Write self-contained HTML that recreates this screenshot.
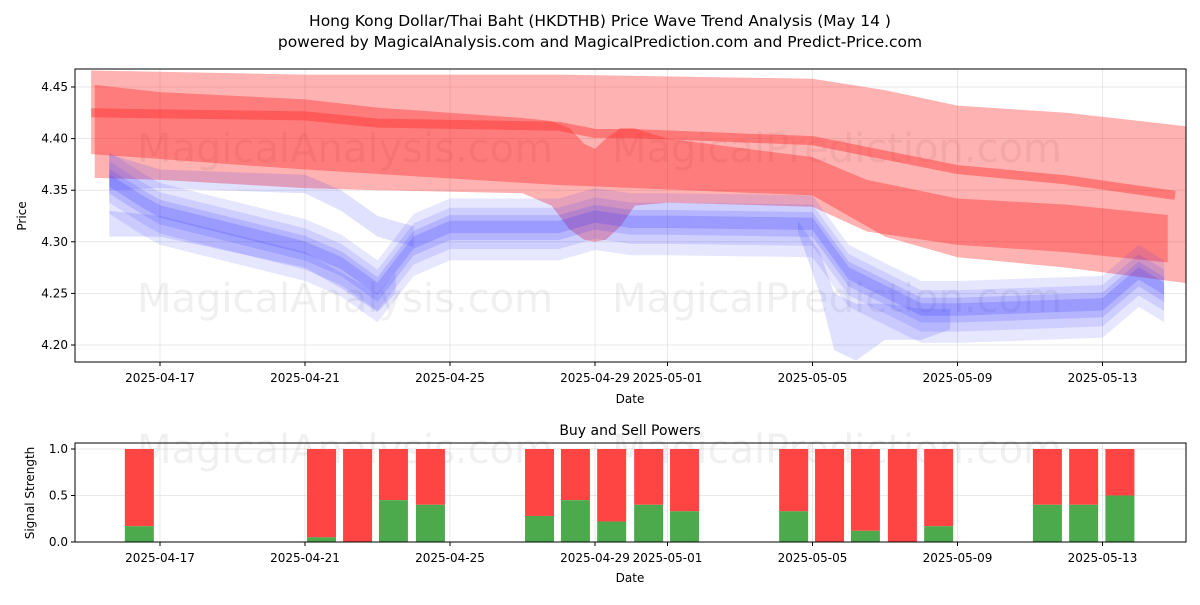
<!DOCTYPE html>
<html><head><meta charset="utf-8">
<style>
body{margin:0;background:#fff;font-family:"Liberation Sans","DejaVu Sans",sans-serif;}
svg text{font-family:"DejaVu Sans","Liberation Sans",sans-serif;}
</style></head>
<body>
<svg id="c" width="1200" height="600" viewBox="0 0 1200 600" xmlns="http://www.w3.org/2000/svg">
<rect width="1200" height="600" fill="#fff"/>
<text x="600" y="26" text-anchor="middle" font-size="15.5">Hong Kong Dollar/Thai Baht (HKDTHB) Price Wave Trend Analysis (May 14 )</text>
<text x="600" y="47" text-anchor="middle" font-size="15.5">powered by MagicalAnalysis.com and MagicalPrediction.com and Predict-Price.com</text>
<g id="topg"></g>
<g id="botg"></g>
</svg>
<script>
// ---- data ----
const xTickLabels = ["2025-04-17","2025-04-21","2025-04-25","2025-04-29","2025-05-01","2025-05-05","2025-05-09","2025-05-13"];
const xTickDays = [0,4,8,12,14,18,22,26];
const yTicks = [4.20,4.25,4.30,4.35,4.40,4.45];
const sigTicks = [0.0,0.5,1.0];

const lightDays = [-1.9,4,11,18,20,22,25,28.3];
const lightHi = [4.466,4.462,4.462,4.458,4.447,4.432,4.425,4.412];
const lightLo = [4.385,4.37,4.355,4.345,4.305,4.285,4.275,4.26];

const midDays = [-1.8,0,4,6,10,10.8,11.3,11.7,12,12.3,12.7,13.1,14,18,19.5,22,25,27.8];
const midHi = [4.452,4.445,4.438,4.43,4.42,4.417,4.41,4.395,4.39,4.40,4.41,4.41,4.40,4.382,4.36,4.342,4.336,4.326];
const midLo = [4.362,4.36,4.352,4.35,4.347,4.335,4.312,4.302,4.30,4.302,4.315,4.335,4.338,4.334,4.31,4.297,4.29,4.28];

const redLineDays = [-1.9,4,6,11,12,13,18,22,25,28];
const redLine = [4.425,4.422,4.415,4.412,4.405,4.405,4.398,4.37,4.36,4.345];

const blueDays = [-1.4,-0.5,0,4,5,6,7,8,11,12,13,14,18,19,21,22,26,27,27.7];
const blueMid = [4.36,4.34,4.33,4.295,4.28,4.255,4.30,4.315,4.315,4.325,4.32,4.32,4.318,4.27,4.235,4.235,4.24,4.27,4.255];

const blueUpDays = [-1.4,0,4,5,6,7];
const blueUpHi = [4.385,4.37,4.365,4.35,4.325,4.315];
const blueUpLo = [4.35,4.352,4.347,4.33,4.305,4.295];

const blueLowDays = [-1.4,0,4,5,6,6.5];
const blueLowHi = [4.33,4.325,4.29,4.27,4.25,4.27];
const blueLowLo = [4.305,4.305,4.275,4.255,4.232,4.25];

const blueDipDays = [17.6,18.2,18.6,19.2,20,21,21.8];
const blueDipHi = [4.32,4.29,4.25,4.24,4.24,4.235,4.235];
const blueDipLo = [4.31,4.25,4.195,4.185,4.205,4.205,4.215];

const barDays = [-0.57,4.455,5.45,6.44,7.46,10.47,11.46,12.46,13.48,14.47,17.48,18.47,19.46,20.48,21.48,24.48,25.48,26.48];
const buyVals = [0.17,0.05,0,0.45,0.40,0.28,0.45,0.22,0.40,0.33,0.33,0,0.12,0,0.17,0.40,0.40,0.50];

// ---- scales ----
const L=75,R=1186,T=69,B=362;
const dx=d=>160+d*36.25;
const py=v=>345-(v-4.20)*1032;
const BT=443,BB=542;
const sy=v=>542-v*93;
const NS="http://www.w3.org/2000/svg";
function mk(p,tag,a){const e=document.createElementNS(NS,tag);for(const k in a)e.setAttribute(k,a[k]);p.appendChild(e);return e;}
const gTop=document.getElementById('topg'), gBot=document.getElementById('botg');

xTickDays.forEach((d,i)=>{const g=mk(gTop,'line',{x1:dx(d),x2:dx(d),y1:T,y2:B,stroke:'#b0b0b0','stroke-width':0.8,'stroke-opacity':0.35});
});
yTicks.forEach(v=>{const g=mk(gTop,'line',{x1:L,x2:R,y1:py(v),y2:py(v),stroke:'#b0b0b0','stroke-width':0.8,'stroke-opacity':0.35});
});

[[345,148],[837,148],[345,298],[837,298],[345,449],[837,449]].forEach((p,i)=>{
 const t=mk(gTop,'text',{x:p[0],y:p[1]+14,'text-anchor':'middle','font-size':40,fill:'#000','fill-opacity':0.06});
 t.textContent=(i%2==0)?'MagicalAnalysis.com':'MagicalPrediction.com';
 });

function band(p,days,hi,lo,fill,op){
 let s='M'+days.map((d,i)=>dx(d)+','+py(hi[i])).join('L');
 s+='L'+days.map((d,i)=>dx(d)+','+py(lo[i])).reverse().join('L')+'Z';
 return mk(p,'path',{d:s,fill:fill,'fill-opacity':op,'stroke-linejoin':'round'});
}
const b1=band(gTop,lightDays,lightHi,lightLo,'#ff0000',0.3);

const b2=band(gTop,midDays,midHi,midLo,'#ff0000',0.3);

const rl=mk(gTop,'path',{d:'M'+redLineDays.map((d,i)=>dx(d)+','+py(redLine[i])).join('L'),fill:'none',stroke:'#ff3030','stroke-opacity':0.45,'stroke-width':9});


// blue bands
[[0.03,0.12],[0.02,0.13],[0.012,0.16],[0.006,0.2]].forEach(w=>{
 const hi=blueMid.map(v=>v+w[0]*0.9), lo=blueMid.map(v=>v-w[0]*1.1);
 const b=band(gTop,blueDays,hi,lo,'#3030ff',w[1]);
 });
let bb=band(gTop,blueUpDays,blueUpHi,blueUpLo,'#3030ff',0.15);

bb=band(gTop,blueLowDays,blueLowHi,blueLowLo,'#3030ff',0.15);

bb=band(gTop,blueDipDays,blueDipHi,blueDipLo,'#3030ff',0.15);


const f1=mk(gTop,'rect',{x:L,y:T,width:R-L,height:B-T,fill:'none',stroke:'#000','stroke-width':1});

xTickDays.forEach((d,i)=>{mk(gTop,'line',{x1:dx(d),x2:dx(d),y1:B,y2:B+4,stroke:'#000'});
 const t=mk(gTop,'text',{x:dx(d),y:B+20,'text-anchor':'middle','font-size':12});t.textContent=xTickLabels[i];
 });
yTicks.forEach(v=>{mk(gTop,'line',{x1:L-4,x2:L,y1:py(v),y2:py(v),stroke:'#000'});
 const t=mk(gTop,'text',{x:L-7,y:py(v)+4,'text-anchor':'end','font-size':12});t.textContent=v.toFixed(2);
 });
let t=mk(gTop,'text',{x:630,y:403,'text-anchor':'middle','font-size':12});t.textContent='Date';

t=mk(gTop,'text',{x:26,y:216,'text-anchor':'middle','font-size':12,transform:'rotate(-90 26 216)'});t.textContent='Price';


t=mk(gBot,'text',{x:630,y:435,'text-anchor':'middle','font-size':14});t.textContent='Buy and Sell Powers';

xTickDays.forEach(d=>{const g=mk(gBot,'line',{x1:dx(d),x2:dx(d),y1:BT,y2:BB,stroke:'#b0b0b0','stroke-width':0.8,'stroke-opacity':0.35});
 });
sigTicks.forEach(v=>{const g=mk(gBot,'line',{x1:L,x2:R,y1:sy(v),y2:sy(v),stroke:'#b0b0b0','stroke-width':0.8,'stroke-opacity':0.35});
 });
const bw=0.8*36.25;
barDays.forEach((d,i)=>{
 const x=dx(d)-bw/2;
 const s=mk(gBot,'rect',{x:x,y:sy(1),width:bw,height:sy(buyVals[i])-sy(1),fill:'#ff4444'});
 
 const g=mk(gBot,'rect',{x:x,y:sy(buyVals[i]),width:bw,height:sy(0)-sy(buyVals[i]),fill:'#4caa4c'});
 });
const f2=mk(gBot,'rect',{x:L,y:BT,width:R-L,height:BB-BT,fill:'none',stroke:'#000','stroke-width':1});

xTickDays.forEach((d,i)=>{mk(gBot,'line',{x1:dx(d),x2:dx(d),y1:BB,y2:BB+4,stroke:'#000'});
 const t=mk(gBot,'text',{x:dx(d),y:BB+20,'text-anchor':'middle','font-size':12});t.textContent=xTickLabels[i];
 });
sigTicks.forEach(v=>{mk(gBot,'line',{x1:L-4,x2:L,y1:sy(v),y2:sy(v),stroke:'#000'});
 const t=mk(gBot,'text',{x:L-7,y:sy(v)+4,'text-anchor':'end','font-size':12});t.textContent=v.toFixed(1);
 });
t=mk(gBot,'text',{x:630,y:582,'text-anchor':'middle','font-size':12});t.textContent='Date';

t=mk(gBot,'text',{x:34,y:493,'text-anchor':'middle','font-size':12,transform:'rotate(-90 34 493)'});t.textContent='Signal Strength';

</script>
</body></html>
